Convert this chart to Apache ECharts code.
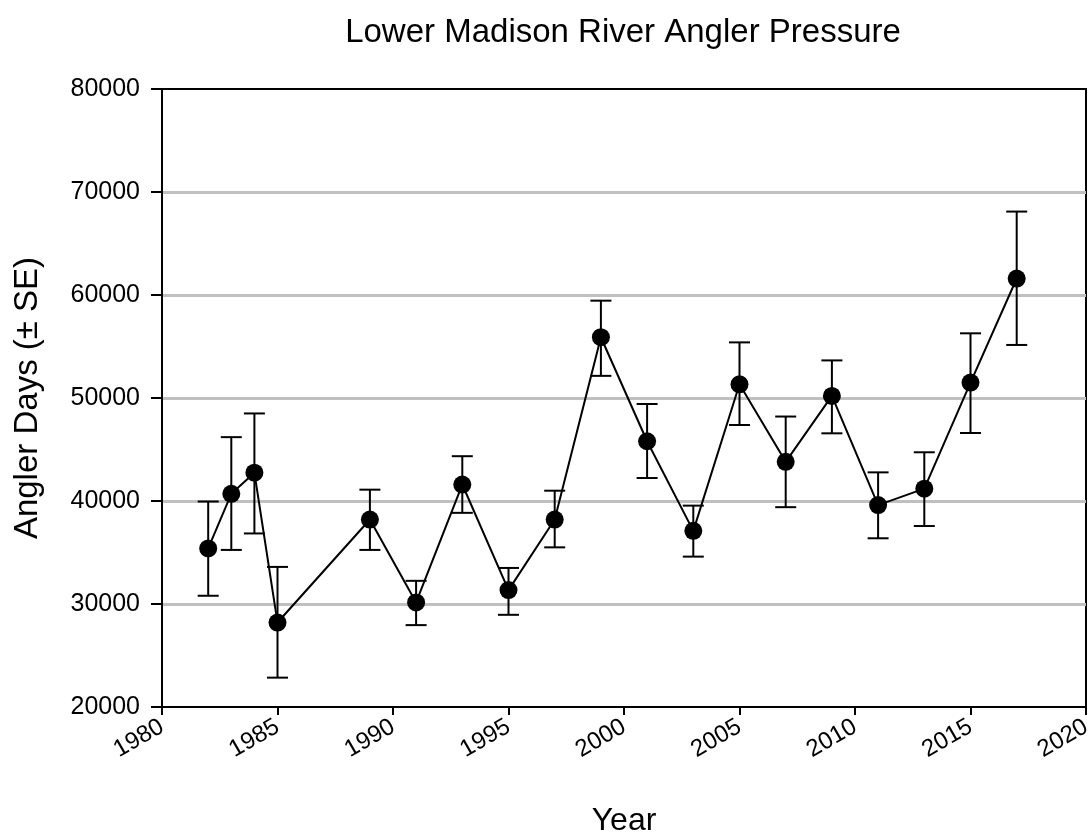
<!DOCTYPE html>
<html>
<head>
<meta charset="utf-8">
<script src="https://cdn.jsdelivr.net/npm/echarts@6/dist/echarts.min.js"></script>
<style>
  html, body { margin: 0; padding: 0; background: #fff; }
  #chart { width: 1092px; height: 833px; }
</style>
</head>
<body>
<div id="chart"></div>
<script>
  // survey years and estimated angler days
  const years = [1982, 1983, 1984, 1985, 1989, 1991, 1993, 1995, 1997, 1999, 2001, 2003, 2005, 2007, 2009, 2011, 2013, 2015, 2017];
  const anglerDays = [35400, 40700, 42750, 28200, 38200, 30150, 41600, 31350, 38200, 55900, 45800, 37100, 51330, 43800, 50200, 39600, 41200, 51500, 61600];
  const seLow = [30800, 35250, 36850, 22850, 35250, 27950, 38850, 28950, 35500, 52150, 42230, 34600, 47380, 39400, 46570, 36380, 37570, 46600, 55150];
  const seHigh = [39950, 46200, 48500, 33600, 41100, 32250, 44350, 33500, 41000, 59450, 49420, 39550, 55400, 48200, 53650, 42780, 44730, 56280, 68100];

  const font = 'Liberation Sans, Arial, sans-serif';

  const points = years.map((y, i) => [y, anglerDays[i]]);
  const bars = years.map((y, i) => [y, seLow[i], seHigh[i]]);

  const chart = echarts.init(document.getElementById('chart'));

  const option = {
    animation: false,
    backgroundColor: '#fff',
    title: {
      text: 'Lower Madison River Angler Pressure',
      left: 618,
      textAlign: 'center',
      top: 11,
      textStyle: { fontFamily: font, fontSize: 33, fontWeight: 'normal', color: '#000' }
    },
    grid: {
      left: 162,
      right: 6,
      top: 89,
      bottom: 126,
      outerBoundsMode: 'none',
      show: true,
      borderColor: '#000',
      borderWidth: 2,
      backgroundColor: 'transparent'
    },
    xAxis: {
      type: 'value',
      min: 1980,
      max: 2020,
      interval: 5,
      name: 'Year',
      nameLocation: 'middle',
      nameGap: 98,
      nameTextStyle: { fontFamily: font, fontSize: 32, color: '#000' },
      axisLine: { show: true, lineStyle: { color: '#000', width: 2 } },
      axisTick: { show: true, length: 8, lineStyle: { color: '#000', width: 2 } },
      axisLabel: {
        rotate: 30, margin: 18, fontFamily: font, fontSize: 24, color: '#000',
        formatter: (v) => String(v)
      },
      splitLine: { show: false }
    },
    yAxis: {
      type: 'value',
      min: 20000,
      max: 80000,
      interval: 10000,
      name: 'Angler Days (\u00b1 SE)',
      nameLocation: 'middle',
      nameGap: 118,
      nameTextStyle: { fontFamily: font, fontSize: 33, color: '#000' },
      axisLine: { show: true, lineStyle: { color: '#000', width: 2 } },
      axisTick: { show: true, length: 11, lineStyle: { color: '#000', width: 2 } },
      axisLabel: {
        margin: 22, fontFamily: font, fontSize: 25, color: '#000',
        formatter: (v) => String(v)
      },
      splitLine: {
        show: true,
        showMinLine: false,
        showMaxLine: false,
        lineStyle: { color: '#c0c0c0', width: 3 }
      }
    },
    series: [
      {
        type: 'custom',
        data: bars,
        z: 3,
        renderItem: function (params, api) {
          const x = api.value(0);
          const lo = api.coord([x, api.value(1)]);
          const hi = api.coord([x, api.value(2)]);
          const w = 10.5;
          const style = { stroke: '#000', lineWidth: 2 };
          return {
            type: 'group',
            children: [
              { type: 'line', shape: { x1: lo[0], y1: lo[1], x2: hi[0], y2: hi[1] }, style: style },
              { type: 'line', shape: { x1: lo[0] - w, y1: lo[1], x2: lo[0] + w, y2: lo[1] }, style: style },
              { type: 'line', shape: { x1: hi[0] - w, y1: hi[1], x2: hi[0] + w, y2: hi[1] }, style: style }
            ]
          };
        }
      },
      {
        type: 'line',
        data: points,
        z: 4,
        symbol: 'circle',
        symbolSize: 18,
        itemStyle: { color: '#000' },
        lineStyle: { color: '#000', width: 2 }
      }
    ]
  };

  chart.setOption(option);
</script>
</body>
</html>
